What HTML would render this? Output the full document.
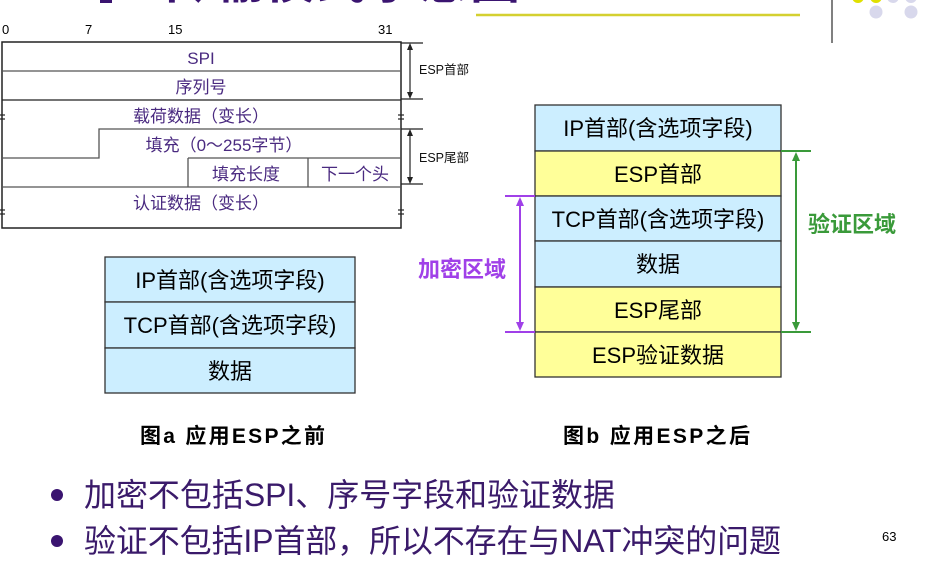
<!DOCTYPE html>
<html><head><meta charset="utf-8"><style>
html,body{margin:0;padding:0;background:#fff;}
svg{display:block;}
text{font-family:"Liberation Sans","Noto Sans CJK SC",sans-serif;}
</style></head><body>
<svg width="930" height="566" viewBox="0 0 930 566" xmlns="http://www.w3.org/2000/svg">
<text x="162" y="-2" font-size="50" font-weight="bold" fill="#3a1470" textLength="358">传输模式示意图</text>
<rect x="100" y="0" width="12" height="3" fill="#3a1470"/>
<line x1="476" y1="15" x2="800" y2="15" stroke="#d4d030" stroke-width="2.5"/>
<line x1="832" y1="0" x2="832" y2="43" stroke="#808080" stroke-width="2"/>
<circle cx="858" cy="-3" r="6" fill="#e0e000"/><circle cx="876" cy="-3" r="6" fill="#e0e000"/>
<circle cx="893" cy="-3" r="6" fill="#d8d8ec"/><circle cx="911" cy="-3" r="6" fill="#d8d8ec"/>
<circle cx="876" cy="12" r="6.5" fill="#d8d8ec"/><circle cx="911" cy="12" r="6.5" fill="#d8d8ec"/>

<g font-size="13" fill="#000">
<text x="2" y="34">0</text><text x="85" y="34">7</text><text x="168" y="34">15</text><text x="378" y="34">31</text>
</g>
<g stroke="#555" stroke-width="1.3" fill="none">
<rect x="2" y="42" width="399" height="186" stroke="#222" stroke-width="1.5"/>
<line x1="2" y1="71" x2="401" y2="71"/>
<line x1="2" y1="100" x2="401" y2="100" stroke="#222"/>
<polyline points="401,129 99,129 99,158 2,158"/>
<line x1="188" y1="158" x2="401" y2="158"/>
<line x1="188" y1="158" x2="188" y2="187"/>
<line x1="308" y1="158" x2="308" y2="187"/>
<line x1="2" y1="187" x2="401" y2="187"/>
</g>
<g stroke="#222" stroke-width="1.2">
<line x1="0" y1="115" x2="5" y2="115"/><line x1="0" y1="119" x2="5" y2="119"/>
<line x1="398" y1="115" x2="404" y2="115"/><line x1="398" y1="119" x2="404" y2="119"/>
<line x1="0" y1="210" x2="5" y2="210"/><line x1="0" y1="214" x2="5" y2="214"/>
<line x1="398" y1="210" x2="404" y2="210"/><line x1="398" y1="214" x2="404" y2="214"/>
<line x1="401" y1="43" x2="423" y2="43"/><line x1="401" y1="99" x2="423" y2="99"/>
<line x1="410" y1="46" x2="410" y2="96"/>
<line x1="401" y1="129" x2="423" y2="129"/><line x1="401" y1="184" x2="423" y2="184"/>
<line x1="410" y1="132" x2="410" y2="181"/>
</g>
<g fill="#222">
<polygon points="410,43 407,50 413,50"/><polygon points="410,99 407,92 413,92"/>
<polygon points="410,129 407,136 413,136"/><polygon points="410,184 407,177 413,177"/>
</g>
<text x="419" y="74" font-size="12.5" fill="#111">ESP首部</text>
<text x="419" y="162" font-size="12.5" fill="#111">ESP尾部</text>
<g font-size="17" fill="#4a2a80" text-anchor="middle">
<text x="201" y="64">SPI</text>
<text x="201" y="93">序列号</text>
<text x="201" y="122">载荷数据（变长）</text>
<text x="224" y="151">填充（0～255字节）</text>
<text x="246" y="180">填充长度</text>
<text x="355" y="180">下一个头</text>
<text x="201" y="209">认证数据（变长）</text>
</g>

<g stroke="#333" stroke-width="1.3">
<rect x="105" y="257" width="250" height="45" fill="#cceeff"/>
<rect x="105" y="302" width="250" height="46" fill="#cceeff"/>
<rect x="105" y="348" width="250" height="45" fill="#cceeff"/>
</g>
<g font-size="22" fill="#000" text-anchor="middle">
<text x="230" y="288">IP首部(含选项字段)</text>
<text x="230" y="333">TCP首部(含选项字段)</text>
<text x="230" y="379">数据</text>
</g>
<text x="140" y="443" font-size="21" font-weight="bold" textLength="185">图a 应用ESP之前</text>

<g stroke="#333" stroke-width="1.3">
<rect x="535" y="105" width="246" height="46" fill="#cceeff"/>
<rect x="535" y="151" width="246" height="45" fill="#ffff99"/>
<rect x="535" y="196" width="246" height="45" fill="#cceeff"/>
<rect x="535" y="241" width="246" height="46" fill="#cceeff"/>
<rect x="535" y="287" width="246" height="45" fill="#ffff99"/>
<rect x="535" y="332" width="246" height="45" fill="#ffff99"/>
</g>
<g font-size="22" fill="#000" text-anchor="middle">
<text x="658" y="136">IP首部(含选项字段)</text>
<text x="658" y="182">ESP首部</text>
<text x="658" y="227">TCP首部(含选项字段)</text>
<text x="658" y="272">数据</text>
<text x="658" y="318">ESP尾部</text>
<text x="658" y="363">ESP验证数据</text>
</g>
<g stroke="#a040e8" stroke-width="2">
<line x1="505" y1="196" x2="535" y2="196"/><line x1="505" y1="332" x2="535" y2="332"/>
<line x1="520" y1="202" x2="520" y2="326"/>
</g>
<g fill="#a040e8"><polygon points="520,197 516,206 524,206"/><polygon points="520,331 516,322 524,322"/></g>
<text x="418" y="277" font-size="22" fill="#a040e8" font-weight="bold">加密区域</text>
<g stroke="#3a9a3a" stroke-width="2">
<line x1="781" y1="151" x2="811" y2="151"/><line x1="781" y1="332" x2="811" y2="332"/>
<line x1="796" y1="157" x2="796" y2="326"/>
</g>
<g fill="#3a9a3a"><polygon points="796,152 792,161 800,161"/><polygon points="796,331 792,322 800,322"/></g>
<text x="808" y="232" font-size="22" fill="#3a9a3a" font-weight="bold">验证区域</text>
<text x="563" y="443" font-size="21" font-weight="bold" textLength="187">图b 应用ESP之后</text>

<circle cx="57" cy="495" r="6" fill="#3a1470"/>
<circle cx="57" cy="541" r="6" fill="#3a1470"/>
<g font-size="32" fill="#3a1a6a">
<text x="84" y="506" textLength="531">加密不包括SPI、序号字段和验证数据</text>
<text x="84" y="552" textLength="697">验证不包括IP首部，所以不存在与NAT冲突的问题</text>
</g>
<text x="882" y="541" font-size="13" fill="#000">63</text>
</svg>
</body></html>
